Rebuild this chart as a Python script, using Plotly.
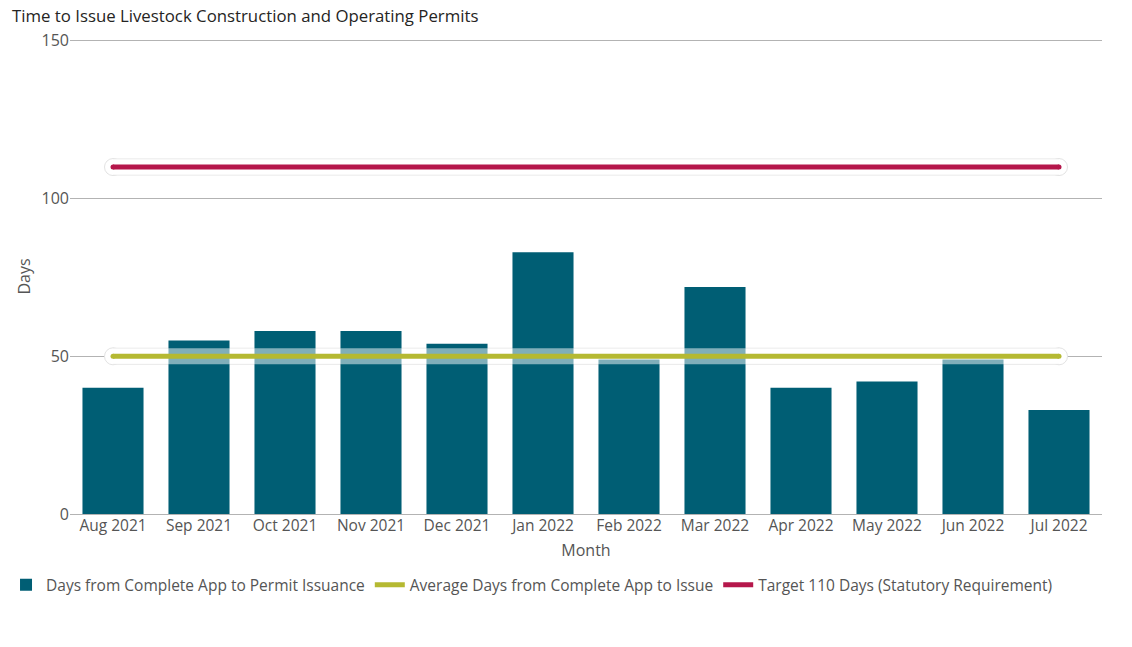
import plotly.graph_objects as go

months = ["Aug 2021", "Sep 2021", "Oct 2021", "Nov 2021", "Dec 2021", "Jan 2022",
          "Feb 2022", "Mar 2022", "Apr 2022", "May 2022", "Jun 2022", "Jul 2022"]
days_to_issue = [40, 55, 58, 58, 54, 83, 49, 72, 40, 42, 49, 33]
average_days = [50] * 12
target_days = [110] * 12

BAR = "#005E74"
AVG = "#B5B932"
TGT = "#B5174B"
FONT = "Open Sans"
TXT = "#555555"

fig = go.Figure()
fig.add_trace(go.Bar(x=months, y=days_to_issue, name="Days from Complete App to Permit Issuance",
                     marker=dict(color=BAR, line=dict(width=0))))

shapes = []
for vals, col, name in [(average_days, AVG, "Average Days from Complete App to Issue"),
                        (target_days, TGT, "Target 110 Days (Statutory Requirement)")]:
    # halo (opaque part, drawn between grid and traces)
    for xa in (months[0], months[-1]):
        shapes.append(dict(type="circle", layer="between", xref="x", yref="y",
                           xsizemode="pixel", ysizemode="pixel", xanchor=xa, yanchor=vals[0],
                           x0=-8.5, x1=8.5, y0=-8.5, y1=8.5,
                           fillcolor="white", line=dict(color="#E3E3E3", width=1)))
    shapes.append(dict(type="line", layer="between", xref="x", yref="y",
                       x0=months[0], x1=months[-1], y0=vals[0], y1=vals[-1],
                       line=dict(color="#E3E3E3", width=17)))
    shapes.append(dict(type="line", layer="between", xref="x", yref="y",
                       x0=months[0], x1=months[-1], y0=vals[0], y1=vals[-1],
                       line=dict(color="white", width=15)))
    # rounded caps of the coloured line
    for xa in (months[0], months[-1]):
        shapes.append(dict(type="circle", layer="above", xref="x", yref="y",
                           xsizemode="pixel", ysizemode="pixel", xanchor=xa, yanchor=vals[0],
                           x0=-2.5, x1=2.5, y0=-2.5, y1=2.5,
                           fillcolor=col, line=dict(width=0)))
    # translucent halo over bars
    fig.add_trace(go.Scatter(x=months, y=vals, mode="lines", showlegend=False, hoverinfo="skip",
                             line=dict(color="rgba(255,255,255,0.5)", width=16)))
    fig.add_trace(go.Scatter(x=months, y=vals, mode="lines", name=name,
                             line=dict(color=col, width=5)))

fig.update_layout(
    width=1132, height=647,
    paper_bgcolor="white", plot_bgcolor="white",
    font=dict(family=FONT, size=16, color=TXT),
    title=dict(text="Time to Issue Livestock Construction and Operating Permits",
               x=0.0106, xanchor="left", y=0.9753, yanchor="middle",
               font=dict(family=FONT, size=16.8, color="#252423")),
    margin=dict(l=70, r=30, t=39, b=133, autoexpand=False),
    bargap=0.29,
    shapes=shapes,
    showlegend=True,
    legend=dict(orientation="h", x=-0.062, xanchor="left", y=-0.114, yanchor="top",
                font=dict(family=FONT, size=15.5, color=TXT),
                traceorder="normal", itemwidth=30),
    xaxis=dict(title=dict(text="Month", font=dict(size=16, color=TXT), standoff=10),
               showgrid=False, showline=False, ticks="", tickfont=dict(size=15.5, color=TXT)),
    yaxis=dict(title=dict(text="Days", font=dict(size=16, color=TXT), standoff=6),
               range=[0, 150.6], tickvals=[0, 50, 100, 150], showgrid=True,
               gridcolor="#B3B3B3", gridwidth=1, zeroline=True, zerolinecolor="#B3B3B3",
               zerolinewidth=1, ticks="", tickfont=dict(size=16, color=TXT)),
)

fig.write_html("out.html", config={"displayModeBar": False},
               post_script="document.body.style.margin='0';")
